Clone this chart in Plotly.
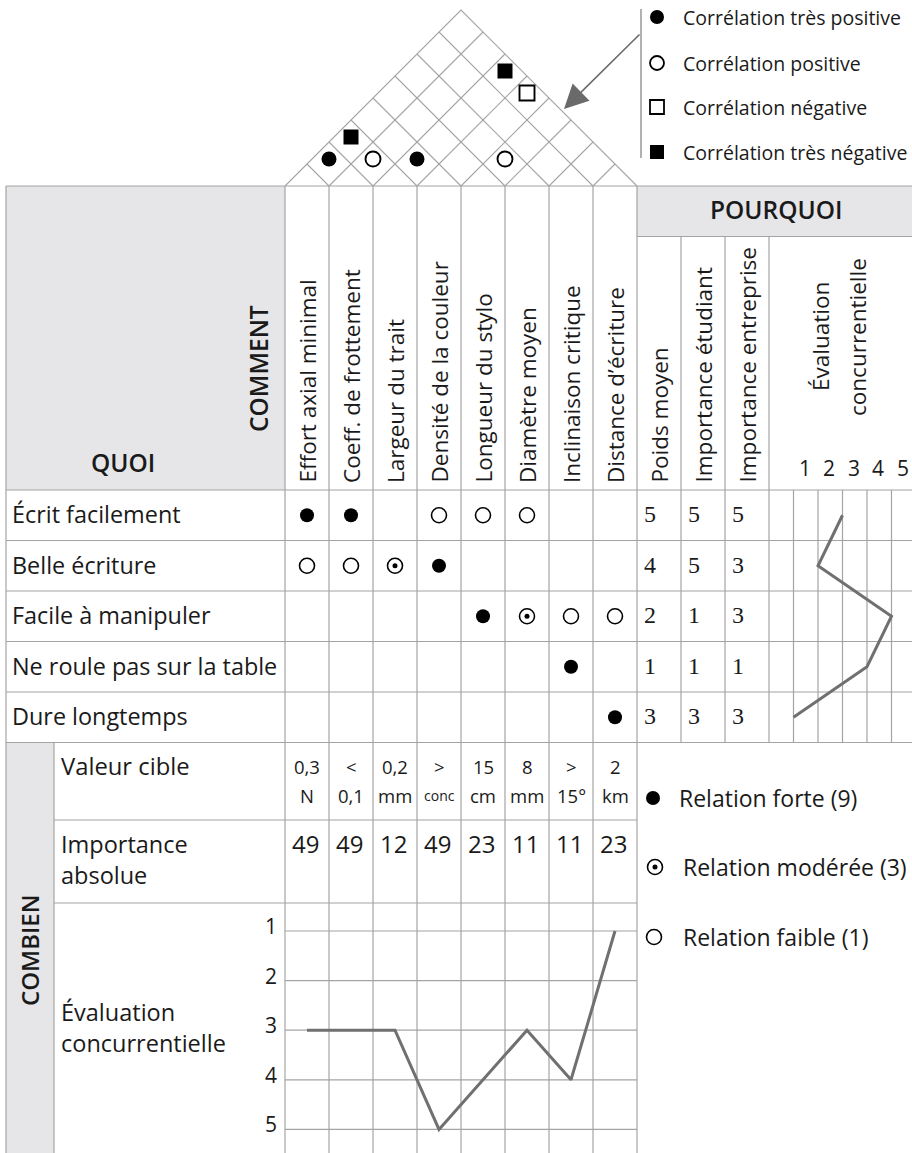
"""
Maison de la qualité (QFD) – stylo
Diagramme reconstruit avec Plotly : toit de corrélations, matrice QUOI/COMMENT,
bloc POURQUOI et bloc COMBIEN avec évaluations concurrentielles.
"""

import plotly.graph_objects as go

# ---------------- données ----------------
QUOI = ["Écrit facilement", "Belle écriture", "Facile à manipuler",
        "Ne roule pas sur la table", "Dure longtemps"]
COMMENT = ["Effort axial minimal", "Coeff. de frottement", "Largeur du trait",
           "Densité de la couleur", "Longueur du stylo", "Diamètre moyen",
           "Inclinaison critique", "Distance d’écriture"]
# 9 = forte, 3 = modérée, 1 = faible, 0 = aucune
RELATIONS = [
    [9, 9, 0, 1, 1, 1, 0, 0],
    [1, 1, 3, 9, 0, 0, 0, 0],
    [0, 0, 0, 0, 9, 3, 1, 1],
    [0, 0, 0, 0, 0, 0, 9, 0],
    [0, 0, 0, 0, 0, 0, 0, 9],
]
POIDS_MOYEN = [5, 4, 2, 1, 3]
IMP_ETUDIANT = [5, 5, 1, 1, 3]
IMP_ENTREPRISE = [5, 3, 3, 1, 3]
EVAL_QUOI = [3, 2, 5, 4, 1]
EVAL_TICKS = [1, 2, 3, 4, 5]

CIBLE_HAUT = ["0,3", "<", "0,2", ">", "15", "8", ">", "2"]
CIBLE_BAS = ["N", "0,1", "mm", "conc", "cm", "mm", "15°", "km"]
IMP_ABSOLUE = [49, 49, 12, 49, 23, 11, 11, 23]
EVAL_COMMENT = [3, 3, 3, 5, 4, 3, 4, 1]

# toit : paires de colonnes (1-indexées) et type de corrélation
ROOF_I = [1, 1, 2, 3, 5, 3, 4]
ROOF_J = [2, 3, 3, 4, 6, 8, 8]
ROOF_KIND = ["++", "--", "+", "++", "+", "--", "-"]

CORR_LABELS = ["Corrélation très positive", "Corrélation positive",
               "Corrélation négative", "Corrélation très négative"]
REL_LABELS = ["Relation forte (9)", "Relation modérée (3)", "Relation faible (1)"]

# ---------------- style / géométrie ----------------
W, H = 912, 1153
_FONT = "Open Sans, Lato, sans-serif"
_SERIF = "Liberation Serif, serif"
_TXT = "#1a1a1a"
_GRID = "#a4a4a4"
_FILL = "#e6e6e8"
_LINE = "#707070"

X0, XC, XE0, CW = 6, 54, 285, 44
XE1 = XE0 + CW * len(COMMENT)          # 637
XR = [XE1 + CW * k for k in range(4)]  # 637, 681, 725, 769
EV0, EVW = 793.5, 24.5
Y_TOP, Y_POUR, Y_HDR, RH = 186, 236.5, 490, 50.5
Y_ROWS_END = Y_HDR + RH * len(QUOI)
Y_CIBLE, Y_IMP = 820, 903
CH0, CHS = 931, 49.6


def col_x(i):
    return XE0 + CW * (i + 0.5)


def row_y(r):
    return Y_HDR + RH * (r + 0.5)


def eval_x(v):
    return EV0 + (v - 1) * EVW


def chart_y(v):
    return CH0 + (v - 1) * CHS


fig = go.Figure()
shapes = []


def hline(y, x0, x1, color=_GRID, width=1.2):
    shapes.append(dict(type="line", x0=x0, x1=x1, y0=y, y1=y, layer="below",
                       line=dict(color=color, width=width)))


def vline(x, y0, y1, color=_GRID, width=1.2):
    shapes.append(dict(type="line", x0=x, x1=x, y0=y0, y1=y1, layer="below",
                       line=dict(color=color, width=width)))


# fonds gris
for x0, y0, x1, y1 in [(X0, Y_TOP, XE0, Y_HDR), (XE1, Y_TOP, W + 5, Y_POUR),
                       (X0, Y_ROWS_END, XC, H + 5)]:
    shapes.append(dict(type="rect", x0=x0, x1=x1, y0=y0, y1=y1, layer="below",
                       fillcolor=_FILL, line=dict(width=0)))

# lignes horizontales
hline(Y_TOP, X0, W + 5)
hline(Y_POUR, XE1, W + 5)
for r in range(len(QUOI) + 1):
    hline(Y_HDR + RH * r, X0, W + 5)
hline(Y_CIBLE, XC, XE1)
hline(Y_IMP, XC, XE1)
for v in EVAL_TICKS:
    hline(chart_y(v), XE0, XE1)

# lignes verticales
vline(X0, Y_TOP, H + 5)
vline(XC, Y_ROWS_END, H + 5)
for k in range(len(COMMENT) + 1):
    vline(XE0 + CW * k, Y_TOP, H + 5)
for x in XR[1:]:
    vline(x, Y_POUR, Y_ROWS_END)
for k in range(6):
    vline(EV0 + EVW * k, Y_HDR, Y_ROWS_END)

# toit
apex_x = (XE0 + XE1) / 2
apex_y = Y_TOP - (XE1 - XE0) / 2
shapes.append(dict(type="path", layer="below",
                   path=f"M {XE0},{Y_TOP} L {apex_x},{apex_y} L {XE1},{Y_TOP}",
                   line=dict(color=_GRID, width=1.1)))
for k in range(1, len(COMMENT)):
    b = XE0 + CW * k
    shapes.append(dict(type="line", layer="below", x0=b, y0=Y_TOP,
                       x1=(b + XE1) / 2, y1=Y_TOP - (XE1 - b) / 2,
                       line=dict(color=_GRID, width=1.1)))
    shapes.append(dict(type="line", layer="below", x0=b, y0=Y_TOP,
                       x1=(b + XE0) / 2, y1=Y_TOP - (b - XE0) / 2,
                       line=dict(color=_GRID, width=1.1)))
# ligne verticale de la légende du toit
vline(641, 9, 158, color="#888888", width=1.3)


def add_markers(xs, ys, symbol, size, filled, lw=1.6):
    if not xs:
        return
    fig.add_trace(go.Scatter(
        x=xs, y=ys, mode="markers", hoverinfo="skip", showlegend=False,
        marker=dict(symbol=symbol, size=size,
                    color="#000000" if filled else "#ffffff",
                    line=dict(color="#000000", width=0 if filled else lw)),
    ))


# symboles du toit
roof_style = {"++": ("circle", 15, True), "+": ("circle", 15, False),
              "-": ("square", 15, False), "--": ("square", 15, True)}
for kind in roof_style:
    xs, ys = [], []
    for i, j, kd in zip(ROOF_I, ROOF_J, ROOF_KIND):
        if kd != kind:
            continue
        xi, xj = col_x(i - 1), col_x(j - 1)
        xs.append((xi + xj) / 2)
        ys.append(Y_TOP - (xj - xi) / 2 - 5)
    sym, sz, fill = roof_style[kind]
    add_markers(xs, ys, sym, sz, fill, lw=1.9)

# légende du toit
leg_y = [17, 63, 107, 152]
for kind, y in zip(["++", "+", "-", "--"], leg_y):
    sym, sz, fill = roof_style[kind]
    add_markers([657], [y], sym, sz - 1, fill, lw=1.8)

# matrice des relations
for val in (9, 3, 1):
    xs, ys = [], []
    for r, row in enumerate(RELATIONS):
        for c, v in enumerate(row):
            if v == val:
                xs.append(col_x(c))
                ys.append(row_y(r))
    if val == 9:
        add_markers(xs, ys, "circle", 14, True)
    else:
        add_markers(xs, ys, "circle", 15, False)
        if val == 3:
            add_markers(xs, ys, "circle", 5, True)

# légende des relations
add_markers([653], [798], "circle", 14, True)
add_markers([655, 654], [867, 937], "circle", 15, False)
add_markers([655], [867], "circle", 5, True)

# évaluation concurrentielle des QUOI
fig.add_trace(go.Scatter(
    x=[eval_x(v) for v in EVAL_QUOI], y=[row_y(r) for r in range(len(QUOI))],
    mode="lines", line=dict(color=_LINE, width=3), hoverinfo="skip",
    showlegend=False,
))
# évaluation concurrentielle des COMMENT
fig.add_trace(go.Scatter(
    x=[col_x(i) for i in range(len(COMMENT))],
    y=[chart_y(v) for v in EVAL_COMMENT],
    mode="lines", line=dict(color=_LINE, width=3), hoverinfo="skip",
    showlegend=False,
))

# flèche
fig.add_annotation(x=564, y=109, ax=641, ay=33, xref="x", yref="y",
                   axref="x", ayref="y", text="", showarrow=True,
                   arrowhead=2, arrowsize=3, arrowwidth=1.6,
                   arrowcolor="#6a6a6a")


def txt(x, y, s, size=20, xa="center", ya="middle", angle=0, weight=400,
        family=_FONT, align="center"):
    fig.add_annotation(x=x, y=y, text=s, showarrow=False, xref="x", yref="y",
                       xanchor=xa, yanchor=ya, textangle=angle, align=align,
                       font=dict(family=family, size=size, color=_TXT,
                                 weight=weight))


# en-têtes
txt(123, 462, "QUOI", size=24.5, weight=600)
txt(258, 369, "COMMENT", size=24.5, angle=-90, weight=600)
txt(776, 209, "POURQUOI", size=24.5, weight=600)
txt(29, 950, "COMBIEN", size=24, angle=-90, weight=600)
for i, name in enumerate(COMMENT):
    txt(col_x(i), 485, name, size=22.5, ya="bottom", angle=-90)
for k, name in enumerate(["Poids moyen", "Importance étudiant",
                          "Importance entreprise"]):
    txt(XR[k] + CW / 2, 485, name, size=22.5, ya="bottom", angle=-90)
txt(820, 337, "Évaluation", size=22.5, angle=-90)
txt(857, 337, "concurrentielle", size=22.5, angle=-90)
for v in EVAL_TICKS:
    txt(eval_x(v) + 11, 468, str(v), size=21)

# lignes QUOI
for r, name in enumerate(QUOI):
    y = row_y(r)
    txt(10, y - 1, name, size=23.4, xa="left")
    for k, vals in enumerate([POIDS_MOYEN, IMP_ETUDIANT, IMP_ENTREPRISE]):
        txt(XR[k] + 5, y - 1, str(vals[r]), size=24, xa="left", family=_SERIF)

# bloc COMBIEN
txt(59, 766, "Valeur cible", size=23.8, xa="left")
txt(59, 859, "Importance<br>absolue", size=23.5, xa="left", align="left")
txt(59, 1027, "Évaluation<br>concurrentielle", size=23.5, xa="left", align="left")
for i in range(len(COMMENT)):
    x = col_x(i)
    txt(x, 766, CIBLE_HAUT[i], size=18.5)
    txt(x, 795, CIBLE_BAS[i], size=14 if CIBLE_BAS[i] == "conc" else 18.5)
    txt(x - 2, 843, str(IMP_ABSOLUE[i]), size=24)
for v in EVAL_TICKS:
    txt(279, chart_y(v) - 5, str(v), size=21, xa="right")

# légendes texte
for lab, y in zip(CORR_LABELS, leg_y):
    txt(681, y, lab, size=19.5, xa="left")
for lab, x, y in zip(REL_LABELS, [677, 681, 681], [798, 867, 937]):
    txt(x, y, lab, size=23, xa="left")

fig.update_layout(
    width=W, height=H,
    margin=dict(l=0, r=0, t=0, b=0),
    paper_bgcolor="#ffffff", plot_bgcolor="#ffffff",
    shapes=shapes,
    showlegend=False,
)
fig.update_xaxes(range=[0, W], visible=False, fixedrange=True)
fig.update_yaxes(range=[H, 0], visible=False, fixedrange=True)

# page sans marge pour que la figure couvre exactement la fenêtre
fig.write_html(
    "out.html",
    config={"displayModeBar": False},
    post_script="document.body.style.margin='0';"
                "document.body.style.overflow='hidden';",
)
